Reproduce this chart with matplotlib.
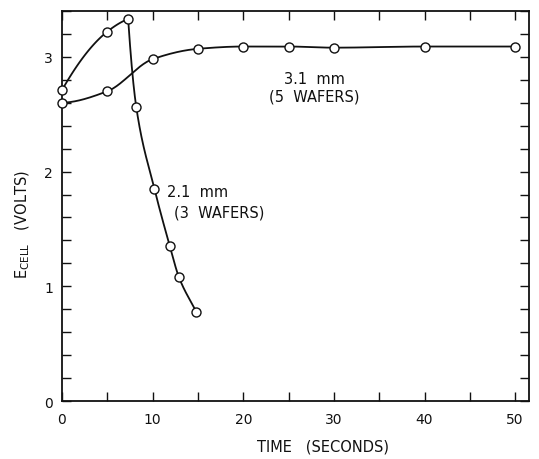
import numpy as np
import matplotlib
matplotlib.use("Agg")
import matplotlib.pyplot as plt
from matplotlib.ticker import MultipleLocator

plt.rcParams['font.family'] = ['DejaVu Sans']
plt.rcParams['mathtext.fontset'] = 'dejavusans'

# 3.1 mm (5 wafers)
t_31 = [0, 5, 10, 15, 20, 25, 30, 40, 50]
e_31 = [2.60, 2.70, 2.98, 3.07, 3.09, 3.09, 3.08, 3.09, 3.09]
# 2.1 mm (3 wafers)
t_21 = [0, 5, 7.3, 8.2, 10.2, 11.9, 12.9, 14.8]
e_21 = [2.71, 3.22, 3.33, 2.56, 1.85, 1.35, 1.08, 0.78]


def _end_slope(h0, h1, d0, d1):
    m = ((2 * h0 + h1) * d0 - h0 * d1) / (h0 + h1)
    if np.sign(m) != np.sign(d0):
        m = 0.0
    elif np.sign(d0) != np.sign(d1) and abs(m) > abs(3 * d0):
        m = 3 * d0
    return m


def smooth(xs, ys, n=40, linear_ends=False):
    """Monotone piecewise-cubic (PCHIP) curve through the points."""
    x = np.asarray(xs, float)
    y = np.asarray(ys, float)
    h = np.diff(x)
    d = np.diff(y) / h
    m = np.zeros_like(x)
    for k in range(1, len(x) - 1):
        if d[k - 1] * d[k] <= 0:
            m[k] = 0.0
        else:
            w1 = 2 * h[k] + h[k - 1]
            w2 = h[k] + 2 * h[k - 1]
            m[k] = (w1 + w2) / (w1 / d[k - 1] + w2 / d[k])
    if linear_ends:
        m[0] = 2 * d[0] - m[1]
        m[-1] = d[-1]
    else:
        m[0] = _end_slope(h[0], h[1], d[0], d[1])
        m[-1] = _end_slope(h[-1], h[-2], d[-1], d[-2])
    X, Y = [], []
    for k in range(len(x) - 1):
        s = np.linspace(0, 1, n)
        h00 = 2 * s**3 - 3 * s**2 + 1
        h10 = s**3 - 2 * s**2 + s
        h01 = -2 * s**3 + 3 * s**2
        h11 = s**3 - s**2
        X.append(x[k] + s * h[k])
        Y.append(h00 * y[k] + h10 * h[k] * m[k] + h01 * y[k + 1] + h11 * h[k] * m[k + 1])
    return np.concatenate(X), np.concatenate(Y)


fig = plt.figure(figsize=(5.39, 4.60), dpi=100)
ax = fig.add_axes([0.115, 0.126, 0.866, 0.848])

lc = '#111111'
x, y = smooth(t_31, e_31)
ax.plot(x, y, color=lc, lw=1.3, zorder=2)
# 2.1 mm curve: sharp peak, smooth on each side
x, y = smooth(t_21[:3], e_21[:3])
ax.plot(x, y, color=lc, lw=1.3, zorder=2)
x, y = smooth(t_21[2:], e_21[2:], linear_ends=True)
ax.plot(x, y, color=lc, lw=1.3, zorder=2)

mk = dict(ls='none', marker='o', ms=6.5, mfc='white', mec=lc, mew=1.0, zorder=3, clip_on=False)
ax.plot(t_31, e_31, **mk)
ax.plot(t_21, e_21, **mk)

ax.set_xlim(0, 51.5)
ax.set_ylim(0, 3.4)
ax.xaxis.set_major_locator(MultipleLocator(10))
ax.xaxis.set_minor_locator(MultipleLocator(5))
ax.yaxis.set_major_locator(MultipleLocator(1))
ax.yaxis.set_minor_locator(MultipleLocator(0.2))
ax.tick_params(which='both', direction='in', top=True, right=True, width=1.0, color=lc,
               labelsize=10, labelcolor=lc, length=6.5)
ax.tick_params(axis='x', pad=8)
ax.tick_params(axis='y', pad=6.5)
for s in ax.spines.values():
    s.set_linewidth(1.3)
    s.set_color(lc)

ax.set_xlabel('TIME   (SECONDS)', fontsize=10.5, color=lc)
ax.xaxis.set_label_coords(0.559, -0.115)
ax.xaxis.label.set_va('center')
ax.set_ylabel(r'E$\mathregular{_{CELL}}$   (VOLTS)', fontsize=10.5, color=lc)
ax.yaxis.set_label_coords(-0.085, 0.454)
ax.yaxis.label.set_va('center')

fs = 10.5
ax.text(27.8, 2.81, '3.1  mm', ha='center', va='center', fontsize=fs, color=lc)
ax.text(27.8, 2.655, '(5  WAFERS)', ha='center', va='center', fontsize=fs, color=lc)
ax.text(11.6, 1.83, '2.1  mm', ha='left', va='center', fontsize=fs, color=lc)
ax.text(12.4, 1.65, '(3  WAFERS)', ha='left', va='center', fontsize=fs, color=lc)

fig.savefig('out.png', dpi=100)
